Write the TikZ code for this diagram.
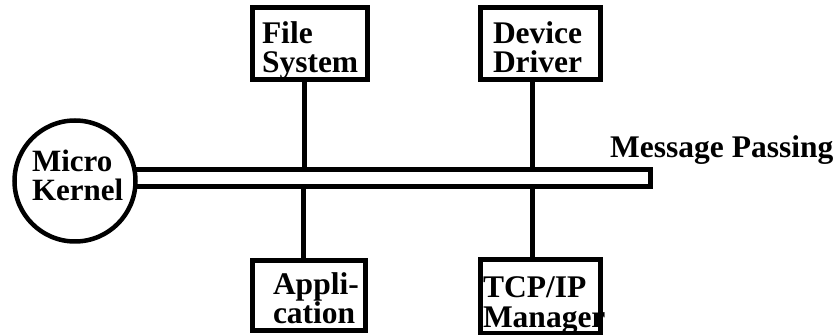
\documentclass[tikz,border=0pt]{standalone}
\usepackage{fontspec}
\setmainfont{Liberation Serif}
\usetikzlibrary{positioning}
\hyphenpenalty=10000
\exhyphenpenalty=10000
\tikzset{module/.style={draw,line width=5pt,inner sep=0pt,align=left,
  font=\bfseries\fontsize{31.5}{29.5}\selectfont,text depth=36pt},
  kernel/.style={circle,draw,fill=white,line width=4.5pt,inner sep=0pt,
  minimum size=121pt,align=left,font=\bfseries\fontsize{31}{28.5}\selectfont,
  text width=86pt,text depth=36pt,text height=18pt},
  busbar/.style={draw,line width=5pt,minimum width=530.5pt,minimum height=17pt},
  link/.style={line width=5pt}}

\begin{document}
\begin{tikzpicture}[x=1pt,y=1pt]
\useasboundingbox (0,0) rectangle (839,335);
\node[busbar] (bus) at (385.25,157) {};
\node[kernel] (mk) at (75,154) {Micro\\Kernel};
\node[anchor=base west,inner sep=0pt,font=\bfseries\fontsize{31.5}{29}\selectfont]
  (mp) at (610,177) {Message Passing};
\node[module,minimum width=115pt,minimum height=68pt,text width=96pt,text height=36pt]
  (fs) at (310,291.5) {File\\System};
\node[module,minimum width=120pt,minimum height=68pt,text width=95pt,text height=36pt]
  (dd) at (540.5,291.5) {Device\\Driver};
\node[module,minimum width=113pt,minimum height=70.5pt,text width=72pt,text height=33pt]
  (app) at (309,39.25) {Appli-\\cation};
\node[module,minimum width=120pt,minimum height=68.5pt,text width=115pt,text height=38.5pt]
  (tcp) at (540.5,38.25) {TCP/IP\\Manager};
\draw[link] ([xshift=-6pt]fs.south) -- ([xshift=-6pt]fs.south |- bus.north);
\draw[link] ([xshift=-5.5pt]app.north) -- ([xshift=-5.5pt]app.north |- bus.south);
\draw[link] ([xshift=-8pt]dd.south) -- ([xshift=-8pt]dd.south |- bus.north);
\draw[link] ([xshift=-8pt]tcp.north) -- ([xshift=-8pt]tcp.north |- bus.south);
\end{tikzpicture}
\end{document}
